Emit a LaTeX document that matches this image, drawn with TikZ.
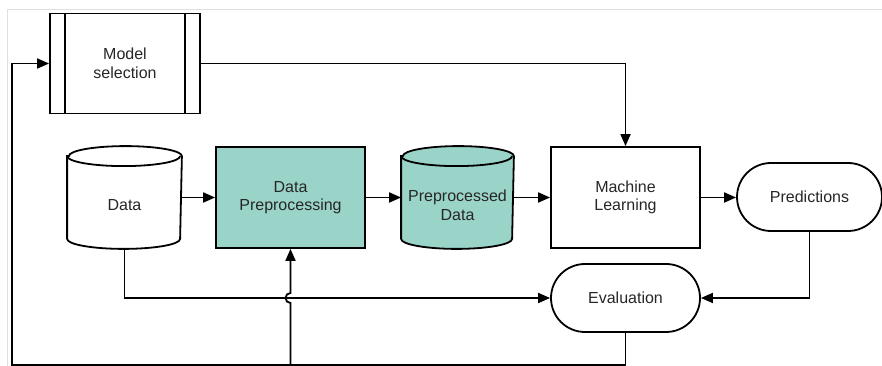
\documentclass[tikz,border=0pt]{standalone}
\usepackage{fontspec}
\setmainfont{Liberation Sans}
\usetikzlibrary{arrows.meta}
\definecolor{tealfill}{HTML}{9AD4C9}
\definecolor{txt}{HTML}{262626}
\begin{document}
\begin{tikzpicture}[x=1pt,y=1pt,
  line width=1.8pt,
  lbl/.style={text=txt, align=center, font=\fontsize{16}{18.5}\selectfont},
  box/.style={lbl, draw, minimum width=149pt, minimum height=101pt, inner sep=0pt},
  pill/.style={lbl, draw, rounded corners=34pt, minimum height=68pt, inner sep=0pt},
  cylbody/.style={inner sep=0pt, minimum width=113pt, minimum height=101pt},
  arr/.style={-{Triangle[length=12pt,width=10pt]}},
  frame/.style={draw=black!12, line width=0.8pt}
]
\useasboundingbox (0,0) rectangle (882,366);
\draw[frame] (7,0) -- (7,357) -- (882,357);

% model selection
\node[box, minimum width=150pt, minimum height=100pt] (M) at (125,302.5) {Model\\selection};
\draw ([xshift=16pt]M.north west) -- ([xshift=16pt]M.south west);
\draw ([xshift=-16pt]M.north east) -- ([xshift=-16pt]M.south east);

% data cylinder
\node[cylbody] (D) at (124.5,168.5) {};
\draw[fill=white] ([yshift=-10pt]D.north west) -- ([yshift=10pt]D.south west)
  arc[start angle=180,end angle=360,x radius=56.5pt,y radius=10pt]
  -- ([yshift=-10pt]D.north east)
  arc[start angle=0,end angle=180,x radius=56.5pt,y radius=10pt] -- cycle;
\draw ([yshift=-10pt]D.north west) arc[start angle=180,end angle=360,x radius=56.5pt,y radius=10pt];
\node[lbl] (Dt) at ([yshift=-8pt]D.center) {Data};

% data preprocessing
\node[box, fill=tealfill] (DP) at (290.5,168.5) {Data\\Preprocessing};

% preprocessed data cylinder
\node[cylbody, minimum width=111pt] (PD) at (457.5,168.5) {};
\draw[fill=tealfill] ([yshift=-10pt]PD.north west) -- ([yshift=10pt]PD.south west)
  arc[start angle=180,end angle=360,x radius=55.5pt,y radius=10pt]
  -- ([yshift=-10pt]PD.north east)
  arc[start angle=0,end angle=180,x radius=55.5pt,y radius=10pt] -- cycle;
\draw ([yshift=-10pt]PD.north west) arc[start angle=180,end angle=360,x radius=55.5pt,y radius=10pt];
\node[lbl] (PDt) at ([yshift=-8pt]PD.center) {Preprocessed\\Data};

% machine learning
\node[box] (ML) at (625.5,168.5) {Machine\\Learning};

% predictions
\node[pill, minimum width=145pt] (P) at (809.5,169) {Predictions};

% evaluation
\node[pill, minimum width=149pt] (E) at (625.5,68) {Evaluation};

% connectors
\draw[arr] (D.east) -- (DP.west);
\draw[arr] (DP.east) -- (PD.west);
\draw[arr] (PD.east) -- (ML.west);
\draw[arr] (ML.east) -- (ML.east -| P.west);
\draw[arr] (M.east) -| (ML.north);
\draw[arr] (P.south) |- (E.east);
\draw[arr] (D.south) |- (E.west);

\coordinate (B1) at (E.south |- 0,1);
\coordinate (B2) at (12,1);
\coordinate (B3) at (DP.south |- 0,1);
\draw[arr] (E.south) -- (B1) -- (B2) |- (M.west);
\draw[arr] (B3) -- ([yshift=-5pt]DP.south |- E.west)
  arc[start angle=-90,end angle=-270,radius=5pt] -- (DP.south);
\end{tikzpicture}
\end{document}
